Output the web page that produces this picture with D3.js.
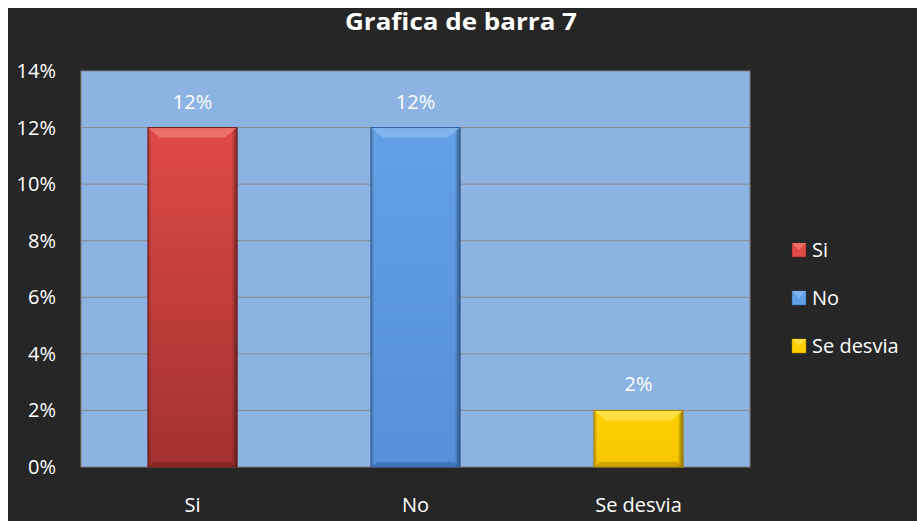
<!DOCTYPE html>
<html lang="es">
<head>
<meta charset="UTF-8">
<script src="https://d3js.org/d3.v7.min.js"></script>
<style>
  body { margin: 0; background: #fff; }
  svg text { font-family: "Open Sans", "Noto Sans", sans-serif; fill: #fff; }
</style>
</head>
<body>
<svg id="chart"></svg>
<script>
const title = "Grafica de barra 7";
const categories = ["Si", "No", "Se desvia"];
const values = [0.12, 0.12, 0.02];
const yTicks = [0, 0.02, 0.04, 0.06, 0.08, 0.10, 0.12, 0.14];
const colors = [
  { top: "#de4a47", bottom: "#a33230", light: "#f27d79", dark: "#6e1c1b" },
  { top: "#64a0e6", bottom: "#5590d8", light: "#8cbcf2", dark: "#2f5f9e" },
  { top: "#ffd000", bottom: "#f5c400", light: "#ffe55a", dark: "#a88200" }
];

const W = 917, H = 521;
const plot = { left: 81, right: 750, top: 71, bottom: 467 };

const svg = d3.select("#chart").attr("width", W).attr("height", H);

// dark chart background, small white strip at top/left
svg.append("rect").attr("x", 8).attr("y", 8).attr("width", W - 8).attr("height", H - 8).attr("fill", "#262626");

const defs = svg.append("defs");
colors.forEach((c, i) => {
  const g = defs.append("linearGradient").attr("id", "g" + i).attr("x1", 0).attr("y1", 0).attr("x2", 0).attr("y2", 1);
  g.append("stop").attr("offset", "0%").attr("stop-color", c.top);
  g.append("stop").attr("offset", "100%").attr("stop-color", c.bottom);
});
const side = defs.append("linearGradient").attr("id", "side").attr("x1", 0).attr("x2", 1).attr("y1", 0).attr("y2", 0);
side.append("stop").attr("offset", "0%").attr("stop-color", "#000").attr("stop-opacity", 0.25);
side.append("stop").attr("offset", "4%").attr("stop-color", "#000").attr("stop-opacity", 0);
side.append("stop").attr("offset", "94%").attr("stop-color", "#000").attr("stop-opacity", 0);
side.append("stop").attr("offset", "100%").attr("stop-color", "#000").attr("stop-opacity", 0.45);

const x = d3.scaleBand().domain(categories).range([plot.left, plot.right]).padding(0);
const y = d3.scaleLinear().domain([0, 0.14]).range([plot.bottom, plot.top]);
const barW = x.bandwidth() * 0.4;

svg.append("rect")
  .attr("x", plot.left).attr("y", plot.top)
  .attr("width", plot.right - plot.left).attr("height", plot.bottom - plot.top)
  .attr("fill", "#8db3e2").attr("stroke", "#7f7f7f").attr("stroke-width", 1);

svg.append("g").selectAll("line").data(yTicks.slice(1, -1)).join("line")
  .attr("x1", plot.left).attr("x2", plot.right)
  .attr("y1", d => y(d)).attr("y2", d => y(d))
  .attr("stroke", "#8a8a8a").attr("stroke-width", 1);

// y axis labels
svg.append("g").selectAll("text").data(yTicks).join("text")
  .attr("x", 56).attr("y", d => y(d)).attr("dy", "0.35em")
  .attr("text-anchor", "end").attr("font-size", 20)
  .text(d3.format(".0%"));

// bars
const bars = svg.append("g").selectAll("g").data(values).join("g")
  .attr("transform", (d, i) => `translate(${x(categories[i]) + (x.bandwidth() - barW) / 2},${y(d)})`);
bars.append("rect")
  .attr("width", barW).attr("height", d => y(0) - y(d))
  .attr("fill", (d, i) => `url(#g${i})`);
bars.append("rect")
  .attr("width", barW).attr("height", d => y(0) - y(d))
  .attr("fill", "url(#side)");
// bevel on top
bars.append("path")
  .attr("d", d => `M0,0 H${barW} L${barW - 12},10 H12 Z`)
  .attr("fill", (d, i) => colors[i].light).attr("opacity", 0.75);
// bevel at bottom
bars.append("path")
  .attr("d", d => { const h = y(0) - y(d); return `M0,${h} H${barW} L${barW - 6},${h - 5} H6 Z`; })
  .attr("fill", (d, i) => colors[i].dark).attr("opacity", 0.5);
bars.append("rect")
  .attr("width", barW).attr("height", d => y(0) - y(d))
  .attr("fill", "none").attr("stroke", (d, i) => colors[i].dark).attr("stroke-width", 1);

// value labels
svg.append("g").selectAll("text").data(values).join("text")
  .attr("x", (d, i) => x(categories[i]) + x.bandwidth() / 2)
  .attr("y", d => y(d) - 26).attr("dy", "0.35em")
  .attr("text-anchor", "middle").attr("font-size", 20)
  .text(d3.format(".0%"));

// category labels, kept inside the frame
svg.append("g").selectAll("text").data(categories).join("text")
  .attr("x", d => x(d) + x.bandwidth() / 2)
  .attr("y", 512)
  .attr("text-anchor", "middle").attr("font-size", 20)
  .text(d => d);

// title
svg.append("text")
  .attr("x", 461).attr("y", 22).attr("dy", "0.35em")
  .attr("text-anchor", "middle").attr("font-size", 23).attr("font-weight", "bold")
  .attr("textLength", 232).attr("lengthAdjust", "spacingAndGlyphs")
  .text(title);

// legend
const leg = svg.append("g").selectAll("g").data(categories).join("g")
  .attr("transform", (d, i) => `translate(792,${250 + i * 48})`);
leg.append("rect").attr("x", 0).attr("y", -7).attr("width", 14).attr("height", 14)
  .attr("fill", (d, i) => colors[i].top).attr("stroke", (d, i) => colors[i].dark).attr("stroke-width", 0.5);
leg.append("path").attr("d", "M0,-7 H14 L7,0 Z").attr("fill", (d, i) => colors[i].light).attr("opacity", 0.7);
leg.append("text").attr("x", 20).attr("y", 0).attr("dy", "0.35em")
  .attr("font-size", 20).text(d => d);
</script>
</body>
</html>
